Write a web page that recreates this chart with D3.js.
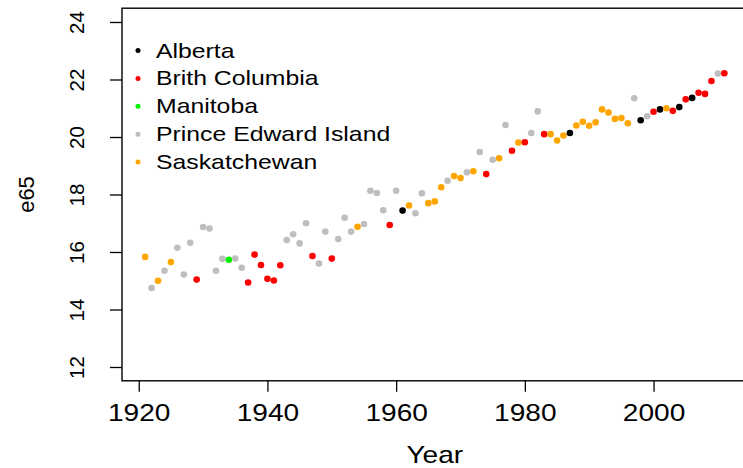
<!DOCTYPE html>
<html>
<head>
<meta charset="utf-8">
<script src="https://cdn.jsdelivr.net/npm/d3@7"></script>
<style>
  body { margin: 0; background: #fff; }
  text { font-family: "Liberation Sans", Arial, sans-serif; fill: #000; }
</style>
</head>
<body>
<div id="chart"></div>
<script>
// provinces shown in the legend, in legend order
var provinces = ["Alberta", "Brith Columbia", "Manitoba", "Prince Edward Island", "Saskatchewan"];
var provinceColors = ["#000000", "#ff0000", "#00ee00", "#bebebe", "#ffa500"];

// one point per year: year, e65 and which province (index into provinces)
var years = [1921,1922,1923,1924,1925,1926,1927,1928,1929,1930,
             1931,1932,1933,1934,1935,1936,1937,1938,1939,1940,
             1941,1942,1943,1944,1945,1946,1947,1948,1949,1950,
             1951,1952,1953,1954,1955,1956,1957,1958,1959,1960,
             1961,1962,1963,1964,1965,1966,1967,1968,1969,1970,
             1971,1972,1973,1974,1975,1976,1977,1978,1979,1980,
             1981,1982,1983,1984,1985,1986,1987,1988,1989,1990,
             1991,1992,1993,1994,1995,1996,1997,1998,1999,2000,
             2001,2002,2003,2004,2005,2006,2007,2008,2009,2010,2011];
var e65 = [15.83,14.75,15.00,15.35,15.65,16.15,15.22,16.32,15.04,16.87,
           16.82,15.35,15.76,15.73,15.77,15.45,14.94,15.91,15.55,15.07,
           15.01,15.54,16.42,16.62,16.30,17.00,15.86,15.60,16.71,15.77,
           16.45,17.19,16.71,16.88,16.97,18.13,18.05,17.45,16.94,18.13,
           17.44,17.62,17.35,18.04,17.70,17.76,18.25,18.48,18.64,18.57,
           18.77,18.81,19.48,18.71,19.21,19.26,20.42,19.52,19.81,19.82,
           20.14,20.89,20.10,20.10,19.88,20.05,20.14,20.40,20.53,20.39,
           20.51,20.96,20.85,20.63,20.66,20.48,21.35,20.58,20.72,20.88,
           20.96,21.00,20.91,21.04,21.31,21.36,21.54,21.50,21.95,22.21,22.22];
var province = [4,3,4,3,4,3,3,3,1,3,
                3,3,3,2,3,3,1,1,1,1,
                1,1,3,3,3,3,1,3,3,1,
                3,3,3,4,3,3,3,3,1,3,
                0,4,3,3,4,4,4,3,4,4,
                3,4,3,1,3,4,3,1,4,1,
                3,3,1,4,4,4,0,4,4,4,
                4,4,4,4,4,4,3,0,3,1,
                0,4,1,0,1,0,1,1,1,3,1];

var xTicks = [1920, 1940, 1960, 1980, 2000];
var yTicks = [12, 14, 16, 18, 20, 22, 24];

var width = 743, height = 468;

var svg = d3.select("#chart").append("svg")
  .attr("width", width)
  .attr("height", height);

// R style 4% padding around the data range
var x = d3.scaleLinear().domain([1917.4, 2014.6]).range([122, 747.5]);
var y = d3.scaleLinear().domain([11.52, 24.48]).range([380.8, 8.2]);

// points
var pts = years.map(function(d, i) { return {year: d, v: e65[i], p: province[i]}; });
svg.append("g").selectAll("circle")
  .data(pts).enter()
  .append("circle")
    .attr("cx", function(d) { return x(d.year); })
    .attr("cy", function(d) { return y(d.v); })
    .attr("r", 3.3)
    .style("fill", function(d) { return provinceColors[d.p]; });

// box
svg.append("rect")
  .attr("x", x.range()[0])
  .attr("y", y.range()[1])
  .attr("width", x.range()[1] - x.range()[0])
  .attr("height", y.range()[0] - y.range()[1])
  .style("fill", "none")
  .style("stroke", "#000")
  .style("stroke-width", 1.4);

// x axis
var gx = svg.append("g")
  .attr("transform", "translate(0," + y.range()[0] + ")")
  .call(d3.axisBottom(x).tickValues(xTicks).tickFormat(d3.format("d")).tickSize(11));
gx.select(".domain").remove();
gx.selectAll("line").style("stroke-width", 1.3);
gx.selectAll("text")
  .attr("y", 40).attr("dy", null)
  .attr("transform", "scale(1.17,1)")
  .style("font-size", "24px");

// y axis
var gy = svg.append("g")
  .attr("transform", "translate(" + x.range()[0] + ",0)")
  .call(d3.axisLeft(y).tickValues(yTicks).tickSize(12));
gy.select(".domain").remove();
gy.selectAll("line").style("stroke-width", 1.3);
gy.selectAll("text")
  .attr("x", 0).attr("y", 0).attr("dy", null)
  .attr("transform", "translate(-38,0) rotate(-90)")
  .style("text-anchor", "middle")
  .style("font-size", "20.5px");

// axis titles
var midX = (x.range()[0] + x.range()[1]) / 2;
svg.append("text")
  .attr("transform", "translate(" + midX + ",462.5) scale(1.17,1)")
  .style("text-anchor", "middle")
  .style("font-size", "24px")
  .text("Year");

svg.append("text")
  .attr("transform", "translate(33.5," + (y.range()[0] + y.range()[1]) / 2 + ") rotate(-90)")
  .style("text-anchor", "middle")
  .style("font-size", "22px")
  .text("e65");

// legend
var legend = svg.append("g").selectAll("g")
  .data(provinces).enter()
  .append("g")
  .attr("transform", function(d, i) { return "translate(138," + (50.5 + i * 27.9) + ")"; });
legend.append("circle")
  .attr("r", 2.5)
  .style("fill", function(d, i) { return provinceColors[i]; });
legend.append("text")
  .attr("transform", "translate(18,7) scale(1.24,1)")
  .style("font-size", "20px")
  .text(function(d) { return d; });
</script>
</body>
</html>
